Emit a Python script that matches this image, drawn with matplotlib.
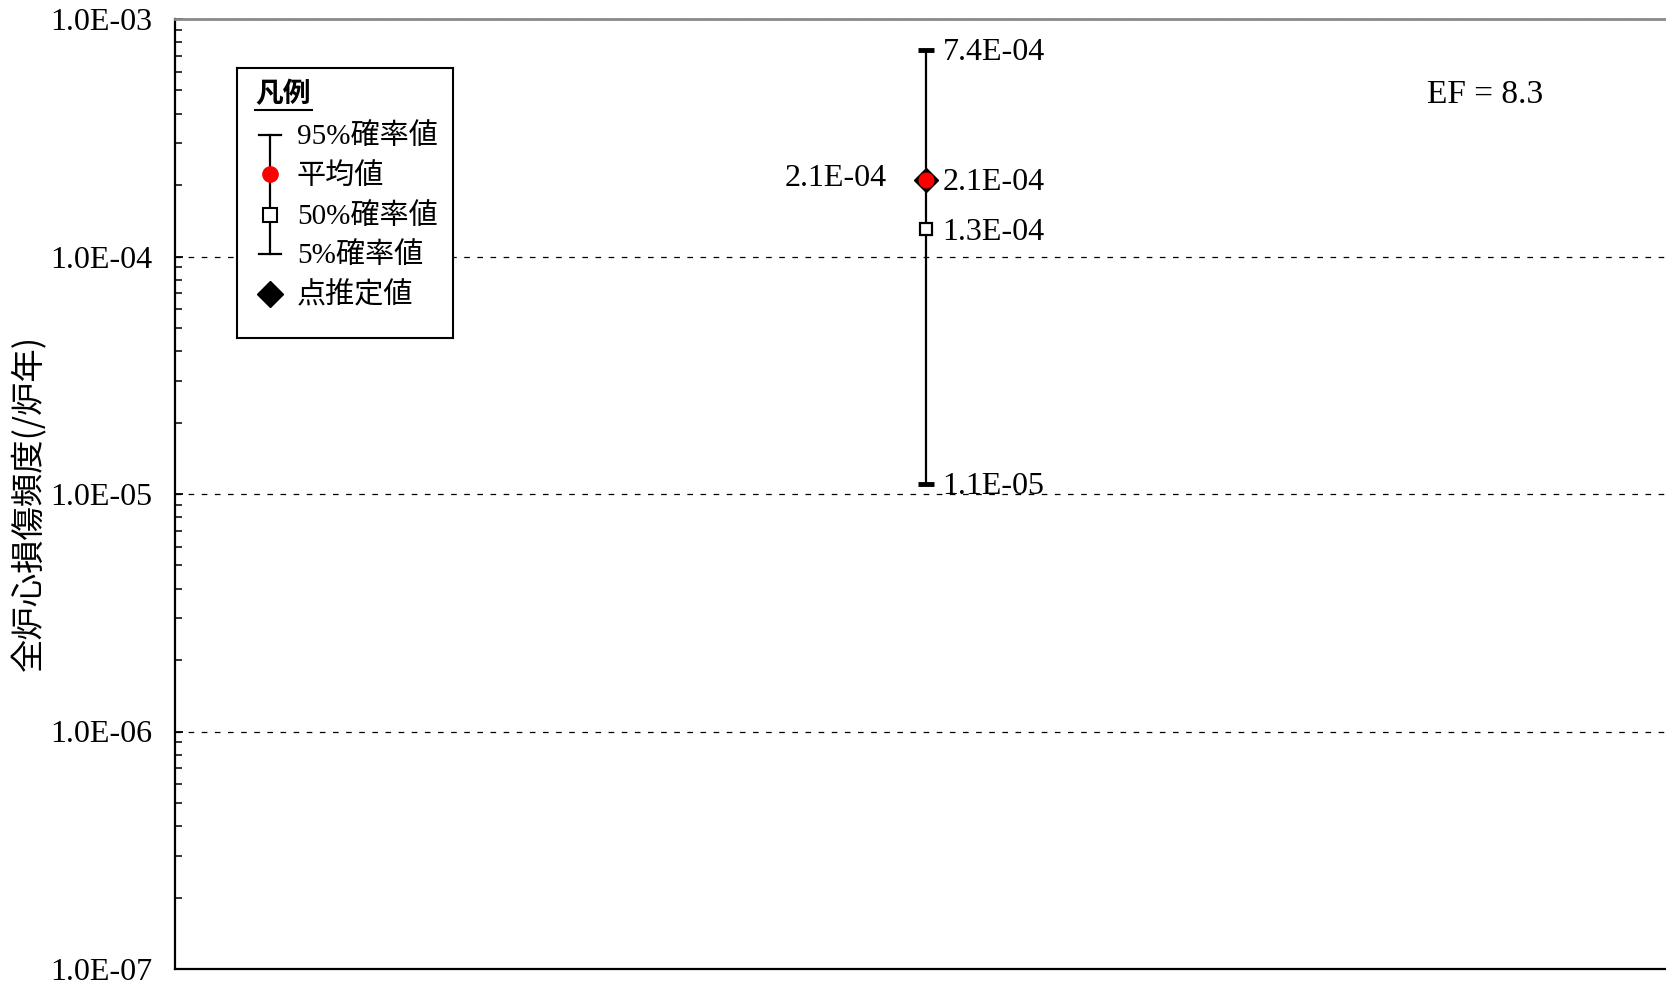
import matplotlib.pyplot as plt
from matplotlib.ticker import LogLocator, FuncFormatter, NullFormatter

# uncertainty result for core damage frequency (/reactor-year)
p95 = [7.4e-4]
mean = [2.1e-4]
p50 = [1.3e-4]
p5 = [1.1e-5]
point_est = [2.1e-4]
xpos = [1]
ef_text = "EF = 8.3"

legend_labels = ["95%確率値", "平均値", "50%確率値", "5%確率値", "点推定値"]
ylabel = "全炉心損傷頻度(/炉年)"

SERIF = ["Liberation Serif", "Noto Sans CJK JP"]
GOTHIC = ["Noto Sans CJK JP", "DejaVu Sans"]
FS = 23

fig = plt.figure(figsize=(16.66, 9.86), dpi=100)
ax = fig.add_axes([175 / 1666, 17 / 986, 1502 / 1666, 950 / 986])

ax.set_yscale("log")
ax.set_ylim(1e-7, 1e-3)
ax.set_xlim(0, 2)

# whiskers 5% - 95%
lower = [m - l for m, l in zip(mean, p5)]
upper = [u - m for m, u in zip(mean, p95)]
ax.errorbar(xpos, mean, yerr=[lower, upper], fmt="none", ecolor="black",
            elinewidth=1.6, capsize=6, capthick=3.5, zorder=3)
ax.plot(xpos, p50, ls="none", marker="s", ms=8.5, mfc="white", mec="black",
        mew=1.6, zorder=4)
ax.plot(xpos, point_est, ls="none", marker="D", ms=12, mfc="black",
        mec="black", zorder=4)
ax.plot(xpos, mean, ls="none", marker="o", ms=10.5, mfc="red", mec="red",
        zorder=5)

for x, vals in zip(xpos, zip(p95, mean, p50, p5)):
    for v in vals:
        ax.annotate(f"{v:.1E}", (x, v), xytext=(12, -2), textcoords="offset points",
                    ha="left", va="center", fontsize=FS, family=SERIF)
for x, v in zip(xpos, point_est):
    ax.annotate(f"{v:.1E}", (x, v), xytext=(-28, 1), textcoords="offset points",
                ha="right", va="center", fontsize=FS, family=SERIF)

ax.text(0.872, 0.92, ef_text, transform=ax.transAxes, ha="center",
        va="center", fontsize=24, family=SERIF)

# axes styling
ax.yaxis.set_major_locator(LogLocator(base=10, numticks=10))
ax.yaxis.set_minor_locator(LogLocator(base=10, subs=range(2, 10), numticks=10))
ax.yaxis.set_major_formatter(FuncFormatter(lambda v, p: f"{v:.1E}"))
ax.yaxis.set_minor_formatter(NullFormatter())
ax.tick_params(axis="y", which="major", direction="in", length=6, width=1.3,
               pad=16, labelsize=FS)
ax.tick_params(axis="y", which="minor", direction="in", length=5, width=1.1)
for lab in ax.get_yticklabels():
    lab.set_family(SERIF)
ax.set_xticks([])
ax.yaxis.grid(True, which="major", color="black", lw=0.9, ls=(0, (4.5, 6)))
ax.spines["right"].set_visible(False)
ax.spines["top"].set_color("#8a8a8a")
ax.spines["top"].set_linewidth(2)
ax.spines["left"].set_linewidth(1.6)
ax.spines["bottom"].set_linewidth(1.6)
fig.text(30 / 1666, 1 - 503 / 986, ylabel, rotation=90, ha="center",
         va="center", fontsize=24, family=GOTHIC)

# hand-drawn legend box (pixel layout inside the box)
lg = fig.add_axes([237 / 1666, 1 - 338 / 986, 216 / 1666, 270 / 986])
lg.set_xlim(0, 216)
lg.set_ylim(270, 0)
lg.set_xticks([])
lg.set_yticks([])
for s in lg.spines.values():
    s.set_linewidth(1.5)
lg.text(18, 26, "凡例", fontsize=20, family=GOTHIC, weight="bold",
        ha="left", va="center")
lg.plot([18, 75], [42, 42], color="black", lw=1.5)
rows = [67, 106, 147, 186, 226]
sx = 33
lg.plot([sx, sx], [rows[0], rows[3]], color="black", lw=1.6)
lg.plot([sx - 11, sx + 11], [rows[0], rows[0]], color="black", lw=1.6)
lg.plot([sx - 11, sx + 11], [rows[3], rows[3]], color="black", lw=1.6)
lg.plot([sx], [rows[1]], marker="o", ms=11, mfc="red", mec="red")
lg.plot([sx], [rows[2]], marker="s", ms=10, mfc="white", mec="black", mew=1.5)
lg.plot([sx], [rows[4]], marker="D", ms=13, mfc="black", mec="black")
for y, t in zip(rows, legend_labels):
    lg.text(60, y + 2, t, fontsize=21, family=SERIF, ha="left", va="center")

fig.savefig("out.png", dpi=100)
